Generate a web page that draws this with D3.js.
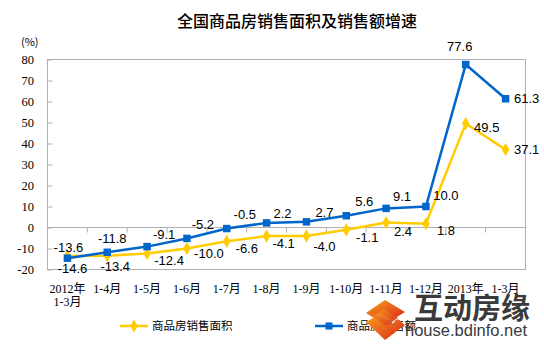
<!DOCTYPE html>
<html><head><meta charset="utf-8">
<script src="https://cdn.jsdelivr.net/npm/d3@7"></script>
<style>body{margin:0;background:#fff}svg{display:block}</style>
</head><body>
<script>
const categories = ["2012年\n1-3月","1-4月","1-5月","1-6月","1-7月","1-8月","1-9月","1-10月","1-11月","1-12月","2013年","1-3月"];
const areaGrowth = [-13.6,-13.4,-12.4,-10.0,-6.6,-4.1,-4.0,-1.1,2.4,1.8,49.5,37.1];
const salesGrowth = [-14.6,-11.8,-9.1,-5.2,-0.5,2.2,2.7,5.6,9.1,10.0,77.6,61.3];
const yTicks = [-20,-10,0,10,20,30,40,50,60,70,80];
const seriesNames = ["商品房销售面积","商品房销售额"];
const title = "全国商品房销售面积及销售额增速";

const W=544,H=344;
const svg=d3.select("body").append("svg").attr("width",W).attr("height",H);
const m={l:47.5,r:525.5,t:59.5,b:269.5};
const x=d3.scaleBand().domain(categories.map((d,i)=>i)).range([m.l,m.r]);
const y=d3.scaleLinear().domain([-20,80]).range([m.b,m.t]);
const font="'Liberation Sans',Arial,sans-serif";
const serif="'Liberation Serif','Noto Sans CJK SC',serif";
const cjk="'Noto Sans CJK SC',sans-serif";
const blue="#0066CC", yellow="#FFCC00";

svg.append("text").attr("x",177).attr("y",27)
  .attr("font-family",cjk).attr("font-size",16).attr("font-weight",500).attr("fill","#000").text(title);
svg.append("text").attr("x",21).attr("y",46).attr("font-family",cjk).attr("font-size",11).text("(%)");

// border
svg.append("rect").attr("x",m.l).attr("y",m.t).attr("width",m.r-m.l).attr("height",m.b-m.t)
  .attr("fill","none").attr("stroke","#b0b0b0");
// y axis ticks
const ya=svg.append("g").attr("transform",`translate(${m.l},0)`)
  .call(d3.axisRight(y).tickValues(yTicks).tickSize(5).tickFormat(""));
ya.select(".domain").remove();
ya.selectAll("line").attr("stroke","#b0b0b0");
svg.append("g").selectAll("text").data(yTicks).join("text")
  .attr("x",34).attr("y",d=>y(d)+4.5).attr("text-anchor","end")
  .attr("font-family",serif).attr("font-size",12.5).text(d=>d);
// zero line
svg.append("line").attr("x1",m.l).attr("x2",m.r).attr("y1",y(0)).attr("y2",y(0)).attr("stroke","#b0b0b0");
const xb=svg.append("g").attr("transform",`translate(0,${y(0)})`)
  .call(d3.axisBottom(x).tickValues(d3.range(1,12)).tickSize(5).tickFormat(""));
xb.select(".domain").remove();
xb.selectAll(".tick").attr("transform",d=>`translate(${x(d)},0)`);
xb.selectAll("line").attr("stroke","#b0b0b0");
// x labels
const xl=svg.append("g").selectAll("text").data(categories).join("text")
  .attr("x",(d,i)=>x(i)+x.bandwidth()/2).attr("y",293).attr("text-anchor","middle")
  .attr("font-family",serif).attr("font-size",12);
xl.each(function(d){const parts=d.split("\n");const t=d3.select(this);
  parts.forEach((p,k)=>t.append("tspan").attr("x",t.attr("x")).attr("dy",k?13:0).text(p));});

const cx=i=>x(i)+x.bandwidth()/2;
const line=d3.line().x((d,i)=>cx(i)).y(d=>y(d));
function draw(vals,color,shape){
  svg.append("path").attr("d",line(vals)).attr("fill","none").attr("stroke",color).attr("stroke-width",2.5);
  svg.append("g").selectAll("path").data(vals).join("path")
    .attr("transform",(d,i)=>`translate(${cx(i)},${y(d)})`)
    .attr("d",d3.symbol().type(shape).size(shape===d3.symbolSquare?56:50)).attr("fill",color);
}
draw(areaGrowth,yellow,d3.symbolDiamond);
draw(salesGrowth,blue,d3.symbolSquare);

// data labels: label-centre offsets from each point (layout only)
const areaOff=[[1,-8.6],[8,11],[22,7],[22,5],[20,7],[17,7.5],[18,10.5],[21,7],[17,9],[20,7],[21,4],[21,0]];
const salesOff=[[5,10],[5,-13.7],[17,-12],[16,-14],[18,-14],[16,-10],[18,-10],[18,-14],[16,-12],[20,-11],[-6,-18],[21,0]];
function labels(vals,off){
  svg.append("g").selectAll("text").data(vals).join("text")
   .attr("font-family",font).attr("font-size",13).attr("fill","#000").attr("text-anchor","middle")
   .attr("x",(d,i)=>cx(i)+off[i][0]).attr("y",(d,i)=>y(d)+off[i][1]+4.7)
   .text(d=>d.toFixed(1));
}
labels(areaGrowth,areaOff);
labels(salesGrowth,salesOff);

// legend
const lg=[{x:120,c:yellow,s:d3.symbolDiamond,n:seriesNames[0]},{x:315,c:blue,s:d3.symbolSquare,n:seriesNames[1]}];
lg.forEach(l=>{
  svg.append("line").attr("x1",l.x).attr("x2",l.x+28).attr("y1",326).attr("y2",326).attr("stroke",l.c).attr("stroke-width",2.5);
  svg.append("path").attr("transform",`translate(${l.x+14},326)`).attr("d",d3.symbol().type(l.s).size(50)).attr("fill",l.c);
  svg.append("text").attr("x",l.x+32).attr("y",330).attr("font-family",cjk).attr("font-size",11.5).text(l.n);
});

// watermark
const defs=svg.append("defs");
const gr=defs.append("linearGradient").attr("id","wg").attr("x1","0").attr("y1","0").attr("x2","1").attr("y2","1");
gr.append("stop").attr("offset","0").attr("stop-color","#f7a21b");
gr.append("stop").attr("offset","1").attr("stop-color","#d9261c");
const wm=svg.append("g");
wm.append("path").attr("d","M385,300 L405,312 L392,320 L380,313 L374,318 L366,313 Z").attr("fill","url(#wg)");
wm.append("path").attr("d","M366,322 L378,315 L392,324 L398,319 L405,325 L385,340 Z").attr("fill","url(#wg)");
wm.append("path").attr("d","M372,316 L384,309 L398,318 L386,326 Z").attr("fill","url(#wg)").attr("opacity",0.9);
wm.append("text").attr("x",414).attr("y",319).attr("font-family",cjk).attr("font-size",29).attr("font-weight","bold")
  .attr("fill","#3a3a3a").text("互动房缘");
wm.append("text").attr("x",405).attr("y",336).attr("font-family",font).attr("font-size",16.5)
  .attr("fill","#3a3a3a").text("house.bdinfo.net");
</script>
</body></html>
